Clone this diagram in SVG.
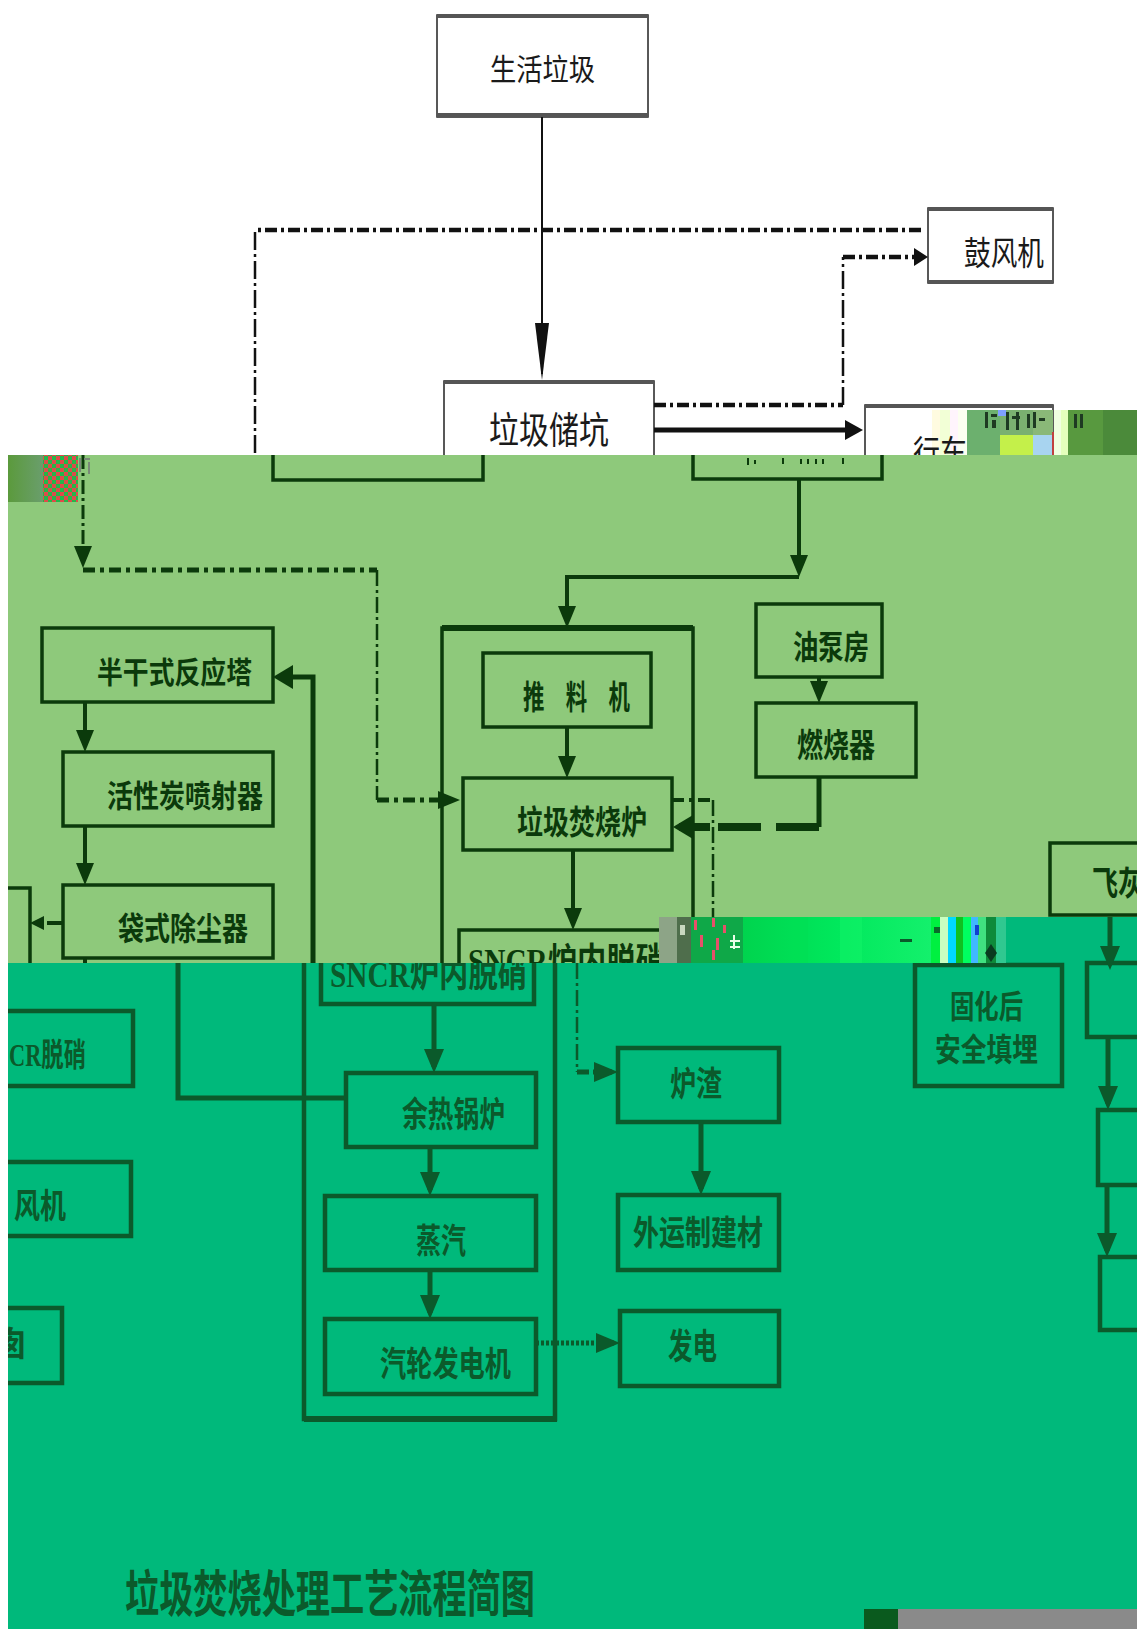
<svg xmlns="http://www.w3.org/2000/svg" width="1137" height="1629" viewBox="0 0 1137 1629">
<defs>
<style>
.tw{font-family:'Noto Sans CJK SC',sans-serif;fill:#1a1a1a}
.tg{font-family:'Noto Sans CJK SC',sans-serif;font-weight:700;fill:#0b3a0b}
.tt{font-family:'Noto Sans CJK SC',sans-serif;font-weight:700;fill:#0b5a2b}
.ts{font-family:'Liberation Serif','Noto Sans CJK SC',serif;font-weight:700}
.bw{fill:#fff;stroke:#222;stroke-width:1.5}
.bg{fill:none;stroke:#0b3a0b;stroke-width:3.5}
.bt{fill:none;stroke:#0b5a2b;stroke-width:4.5}
.cw{fill:none;stroke:#111}
.cg{fill:none;stroke:#0b3a0b}
.ct{fill:none;stroke:#0b5a2b}
.bar{fill:#555}
</style>
<marker id="aw" viewBox="0 0 57 14" refX="51" refY="7" markerWidth="57" markerHeight="14" markerUnits="userSpaceOnUse" orient="auto"><path d="M0,0 L57,7 L0,14 Z" fill="#111"/></marker>
<marker id="awt" viewBox="0 0 18 20" refX="12" refY="10" markerWidth="18" markerHeight="20" markerUnits="userSpaceOnUse" orient="auto"><path d="M0,0 L18,10 L0,20 Z" fill="#111"/></marker>
<marker id="awd" viewBox="0 0 14 18" refX="8" refY="9" markerWidth="14" markerHeight="18" markerUnits="userSpaceOnUse" orient="auto"><path d="M0,0 L14,9 L0,18 Z" fill="#111"/></marker>
<marker id="ag" viewBox="0 0 22 18" refX="16" refY="9" markerWidth="22" markerHeight="18" markerUnits="userSpaceOnUse" orient="auto"><path d="M0,0 L22,9 L0,18 Z" fill="#0b3a0b"/></marker>
<marker id="ags" viewBox="0 0 14 14" refX="8" refY="7" markerWidth="14" markerHeight="14" markerUnits="userSpaceOnUse" orient="auto"><path d="M0,0 L14,7 L0,14 Z" fill="#0b3a0b"/></marker>
<marker id="agb" viewBox="0 0 20 24" refX="14" refY="12" markerWidth="20" markerHeight="24" markerUnits="userSpaceOnUse" orient="auto"><path d="M0,0 L20,12 L0,24 Z" fill="#0b3a0b"/></marker>
<marker id="at" viewBox="0 0 24 20" refX="18" refY="10" markerWidth="24" markerHeight="20" markerUnits="userSpaceOnUse" orient="auto"><path d="M0,0 L24,10 L0,20 Z" fill="#0b5a2b"/></marker>
<pattern id="chk" width="8" height="8" patternUnits="userSpaceOnUse"><rect width="8" height="8" fill="#22b84a"/><rect width="4" height="4" fill="#e04a4a"/><rect x="4" y="4" width="4" height="4" fill="#e04a4a"/></pattern>
<linearGradient id="glg" x1="0" y1="0" x2="1" y2="0"><stop offset="0" stop-color="#00d44e"/><stop offset="0.5" stop-color="#00e85c"/><stop offset="1" stop-color="#14f06c"/></linearGradient>
<linearGradient id="olv" x1="0" y1="0" x2="1" y2="0"><stop offset="0" stop-color="#5b9a3c"/><stop offset="1" stop-color="#6a9e6c"/></linearGradient>
<clipPath id="clipT"><rect x="0" y="963" width="1137" height="666"/></clipPath>
</defs>

<rect width="1137" height="1629" fill="#fff"/>

<!-- top (white) band -->
<g id="node-shenghuolaji">
<rect class="bw" x="437" y="15" width="211" height="102"/>
<rect class="bar" x="437" y="14" width="211" height="4"/>
<rect class="bar" x="437" y="113" width="211" height="4"/>
<text class="tw" x="490" y="80" font-size="30" textLength="105" lengthAdjust="spacingAndGlyphs">生活垃圾</text>
</g>
<g id="node-gufengji">
<rect class="bw" x="928" y="208" width="125" height="75"/>
<rect class="bar" x="928" y="207" width="125" height="4"/>
<rect class="bar" x="928" y="280" width="125" height="4"/>
<text class="tw" x="964" y="265" font-size="33" textLength="80" lengthAdjust="spacingAndGlyphs">鼓风机</text>
</g>
<g id="node-lajichukeng">
<rect class="bw" x="444" y="381" width="210" height="100"/>
<rect class="bar" x="444" y="380" width="210" height="4"/>
<text class="tw" x="489" y="444" font-size="37" textLength="120" lengthAdjust="spacingAndGlyphs">垃圾储坑</text>
</g>
<g id="node-hangche">
<rect class="bw" x="865" y="405" width="188" height="70"/>
<rect class="bar" x="865" y="404" width="188" height="4"/>
</g>
<g id="connectors-top">
<path class="cw" stroke-width="2" d="M542,117 V374" marker-end="url(#aw)"/>
<path class="cw" stroke-width="4.5" stroke-dasharray="12 4 3 4" d="M921,230 H255"/>
<path class="cw" stroke-width="2.5" stroke-dasharray="18 4 3 4" d="M255,232 V455"/>
<path class="cw" stroke-width="4.5" stroke-dasharray="12 4 3 4" d="M654,405 H843"/>
<path class="cw" stroke-width="2.5" stroke-dasharray="18 4 3 4" d="M843,405 V257"/>
<path class="cw" stroke-width="4.5" stroke-dasharray="12 4 3 4" d="M843,257 H922" marker-end="url(#awd)"/>
<path class="cw" stroke-width="5" d="M654,430 H857" marker-end="url(#awt)"/>
</g>
<g id="glitch-top">
<rect x="932" y="410" width="8" height="45" fill="#fffbe0"/>
<rect x="940" y="410" width="10" height="45" fill="#f2ffd6"/>
<rect x="950" y="410" width="8" height="45" fill="#fff4fc"/>
<rect x="958" y="410" width="9" height="45" fill="#fcfff0"/>
<rect x="967" y="410" width="33" height="45" fill="#6cb06e"/>
<rect x="1000" y="410" width="33" height="25" fill="#7ab070"/>
<rect x="1000" y="435" width="33" height="20" fill="#c4f04a"/>
<rect x="1033" y="410" width="20" height="25" fill="#8ab878"/>
<rect x="1033" y="435" width="20" height="20" fill="#a8d4f0"/>
<rect x="1052" y="432" width="2" height="23" fill="#c04040"/>
<rect x="1054" y="410" width="7" height="45" fill="#f0ffe0"/>
<rect x="1061" y="410" width="7" height="45" fill="#e4ffbc"/>
<rect x="1068" y="410" width="35" height="45" fill="#58993f"/>
<rect x="1103" y="410" width="34" height="45" fill="#4b8a3a"/>
<g fill="#1e3a22">
<rect x="985" y="412" width="3" height="16"/><rect x="991" y="414" width="6" height="3"/><rect x="992" y="420" width="4" height="8"/>
<rect x="1006" y="412" width="3" height="18"/><rect x="1012" y="416" width="8" height="3"/><rect x="1016" y="412" width="3" height="18"/>
<rect x="1027" y="414" width="3" height="14"/><rect x="1033" y="412" width="3" height="16"/><rect x="1039" y="418" width="6" height="3"/>
<rect x="1074" y="414" width="3" height="14"/><rect x="1080" y="414" width="3" height="14"/>
</g>
<rect x="998" y="410" width="8" height="6" fill="#7fa0ff"/>
</g>
<text class="tw" x="913" y="465" font-size="34" textLength="54" lengthAdjust="spacingAndGlyphs">行车</text>

<!-- middle (light green) band -->
<rect x="0" y="455" width="1137" height="508" fill="#8ec97b"/>
<g id="node-box-chukeng-lower"><path class="bg" d="M273,455 V480 H483 V455"/></g>
<g id="node-box-hangche-lower"><path class="bg" d="M693,455 V479 H882 V455"/>
<g stroke="#0b3a0b" stroke-width="2"><path d="M748,458 V465 M755,460 V464 M783,458 V464 M801,459 V464 M808,459 V464 M816,459 V464 M823,459 V464 M843,458 V464"/></g>
</g>
<g id="node-banganshi">
<rect class="bg" x="42" y="628" width="231" height="74"/>
<text class="tg" x="97" y="683" font-size="30" textLength="155" lengthAdjust="spacingAndGlyphs">半干式反应塔</text>
</g>
<g id="node-huoxingtan">
<rect class="bg" x="63" y="752" width="210" height="74"/>
<text class="tg" x="107" y="807" font-size="31" textLength="156" lengthAdjust="spacingAndGlyphs">活性炭喷射器</text>
</g>
<g id="node-daishi">
<rect class="bg" x="63" y="885" width="210" height="73"/>
<text class="tg" x="118" y="940" font-size="32" textLength="130" lengthAdjust="spacingAndGlyphs">袋式除尘器</text>
</g>
<g id="node-left-cut"><path class="bg" d="M0,888 H30 V963"/></g>
<g id="node-outer-furnace">
<path class="bg" d="M442,963 V628 H693 V917"/>
<path class="cg" stroke-width="6" d="M442,628 H693"/>
</g>
<g id="node-tuiliaoji">
<rect class="bg" x="483" y="653" width="168" height="74"/>
<text class="tg" x="523" y="709" font-size="33" textLength="107" lengthAdjust="spacingAndGlyphs">推　料　机</text>
</g>
<g id="node-fenshaolu">
<rect class="bg" x="463" y="778" width="209" height="72"/>
<text class="tg" x="517" y="834" font-size="33" textLength="130" lengthAdjust="spacingAndGlyphs">垃圾焚烧炉</text>
</g>
<g id="node-sncr-upper">
<path class="bg" d="M459,963 V930 H672 V963"/>
<text class="ts" fill="#0b3a0b" x="468" y="974" font-size="36" textLength="197" lengthAdjust="spacingAndGlyphs">SNCR炉内脱硝</text>
</g>
<g id="node-youbengfang">
<rect class="bg" x="756" y="604" width="126" height="73"/>
<text class="tg" x="793" y="659" font-size="33" textLength="76" lengthAdjust="spacingAndGlyphs">油泵房</text>
</g>
<g id="node-ranshaoqi">
<rect class="bg" x="756" y="703" width="160" height="74"/>
<text class="tg" x="797" y="757" font-size="33" textLength="78" lengthAdjust="spacingAndGlyphs">燃烧器</text>
</g>
<g id="node-feihui">
<rect class="bg" x="1050" y="843" width="100" height="72"/>
<text class="tg" x="1092" y="895" font-size="33" textLength="52" lengthAdjust="spacingAndGlyphs">飞灰</text>
</g>
<g id="connectors-mid">
<path class="cg" stroke-width="3" stroke-dasharray="14 4 3 4" d="M83,455 V562" marker-end="url(#ag)"/>
<path class="cg" stroke-width="5" stroke-dasharray="12 5 4 5" d="M83,570 H377"/>
<path class="cg" stroke-width="2.5" stroke-dasharray="16 4 3 4" d="M377,570 V800"/>
<path class="cg" stroke-width="5" stroke-dasharray="12 5 4 5" d="M377,800 H454" marker-end="url(#ag)"/>
<path class="cg" stroke-width="4" stroke-dasharray="12 5 4 5" d="M672,800 H713"/>
<path class="cg" stroke-width="2.5" stroke-dasharray="16 4 3 4" d="M713,800 V963"/>
<path class="cg" stroke-width="4" d="M85,702 V746" marker-end="url(#ag)"/>
<path class="cg" stroke-width="4" d="M85,826 V879" marker-end="url(#ag)"/>
<path class="cg" stroke-width="4" d="M85,958 V963"/>
<path class="cg" stroke-width="4" stroke-dasharray="15 3 100" d="M62,923 H36" marker-end="url(#ags)"/>
<path class="cg" stroke-width="5" d="M313,963 V677 H279" marker-end="url(#agb)"/>
<path class="cg" stroke-width="4" d="M799,479 V571" marker-end="url(#ag)"/>
<path class="cg" stroke-width="4" d="M799,577 H567 V622" marker-end="url(#ag)"/>
<path class="cg" stroke-width="4" d="M567,727 V772" marker-end="url(#ag)"/>
<path class="cg" stroke-width="4" d="M573,850 V924" marker-end="url(#ag)"/>
<path class="cg" stroke-width="4" d="M819,677 V697" marker-end="url(#ag)"/>
<path class="cg" stroke-width="5" d="M819,777 V827"/>
<path class="cg" stroke-width="8" stroke-dasharray="43 15 43 8 200 0" d="M819,827 H679" marker-end="url(#agb)"/>
</g>
<g id="glitch-left">
<rect x="8" y="455" width="35" height="47" fill="url(#olv)"/>
<rect x="43" y="455" width="35" height="47" fill="url(#chk)"/>
<rect x="79" y="458" width="2" height="14" fill="#7a8a78"/><rect x="84" y="458" width="6" height="2" fill="#7a8a78"/><rect x="88" y="462" width="2" height="12" fill="#7a8a78"/>
</g>

<!-- bottom (teal) band -->
<rect x="0" y="963" width="1137" height="666" fill="#00b97b"/>
<rect x="1002" y="917" width="135" height="46" fill="#00b97b"/>
<g id="node-outer-boiler">
<path class="bt" d="M304,963 V1419 H555 V963"/>
<path class="ct" stroke-width="6" d="M304,1419 H557"/>
</g>
<g id="node-sncr">
<path class="bt" d="M321,963 V1004 H534 V963"/>
<text class="ts" fill="#0b5a2b" x="330" y="987" font-size="36" textLength="197" lengthAdjust="spacingAndGlyphs" clip-path="url(#clipT)">SNCR炉内脱硝</text>
</g>
<g id="node-yureguolu">
<rect class="bt" x="346" y="1073" width="190" height="74"/>
<text class="tt" x="402" y="1127" font-size="35" textLength="103" lengthAdjust="spacingAndGlyphs">余热锅炉</text>
</g>
<g id="node-zhengqi">
<rect class="bt" x="325" y="1196" width="211" height="74"/>
<text class="tt" x="416" y="1253" font-size="34" textLength="50" lengthAdjust="spacingAndGlyphs">蒸汽</text>
</g>
<g id="node-qilunfadianji">
<rect class="bt" x="325" y="1319" width="211" height="75"/>
<text class="tt" x="380" y="1376" font-size="34" textLength="131" lengthAdjust="spacingAndGlyphs">汽轮发电机</text>
</g>
<g id="node-fadian">
<rect class="bt" x="620" y="1311" width="159" height="75"/>
<text class="tt" x="668" y="1359" font-size="35" textLength="49" lengthAdjust="spacingAndGlyphs">发电</text>
</g>
<g id="node-luzha">
<rect class="bt" x="618" y="1048" width="161" height="74"/>
<text class="tt" x="670" y="1096" font-size="34" textLength="52" lengthAdjust="spacingAndGlyphs">炉渣</text>
</g>
<g id="node-waiyun">
<rect class="bt" x="618" y="1195" width="161" height="75"/>
<text class="tt" x="633" y="1245" font-size="34" textLength="130" lengthAdjust="spacingAndGlyphs">外运制建材</text>
</g>
<g id="node-scr">
<path class="bt" d="M0,1011 H133 V1086 H0"/>
<text class="ts" fill="#0b5a2b" x="9" y="1066" font-size="32" textLength="77" lengthAdjust="spacingAndGlyphs">CR脱硝</text>
</g>
<g id="node-yinfengji">
<path class="bt" d="M0,1162 H131 V1236 H0"/>
<text class="tt" x="14" y="1218" font-size="34" textLength="52" lengthAdjust="spacingAndGlyphs">风机</text>
</g>
<g id="node-yancong">
<path class="bt" d="M0,1308 H62 V1383 H0"/>
<text class="tt" x="-4" y="1356" font-size="34" textLength="30" lengthAdjust="spacingAndGlyphs">囱</text>
</g>
<g id="node-guhua">
<rect class="bt" x="915" y="965" width="147" height="121"/>
<text class="tt" x="950" y="1018" font-size="32" textLength="73" lengthAdjust="spacingAndGlyphs">固化后</text>
<text class="tt" x="935" y="1061" font-size="32" textLength="103" lengthAdjust="spacingAndGlyphs">安全填埋</text>
</g>
<g id="node-right-a"><path class="bt" d="M1140,963 H1087 V1037 H1140"/></g>
<g id="node-right-b"><path class="bt" d="M1140,1110 H1098 V1185 H1140"/></g>
<g id="node-right-c"><path class="bt" d="M1140,1257 H1100 V1330 H1140"/></g>
<g id="connectors-bottom">
<path class="ct" stroke-width="5" d="M178,963 V1098 H346"/>
<path class="ct" stroke-width="5" d="M434,1004 V1067" marker-end="url(#at)"/>
<path class="ct" stroke-width="5" d="M430,1147 V1190" marker-end="url(#at)"/>
<path class="ct" stroke-width="5" d="M430,1270 V1313" marker-end="url(#at)"/>
<path class="ct" stroke-width="5" stroke-dasharray="3 2" d="M536,1343 H614" marker-end="url(#at)"/>
<path class="ct" stroke-width="2.5" stroke-dasharray="16 4 3 4" d="M577,963 V1072"/>
<path class="ct" stroke-width="5" stroke-dasharray="12 4 3 4" d="M577,1072 H612" marker-end="url(#at)"/>
<path class="ct" stroke-width="5" d="M701,1122 V1189" marker-end="url(#at)"/>
<path class="ct" stroke-width="5" d="M1110,917 V964" marker-end="url(#at)"/>
<path class="ct" stroke-width="5" d="M1108,1037 V1104" marker-end="url(#at)"/>
<path class="ct" stroke-width="5" d="M1107,1185 V1251" marker-end="url(#at)"/>
</g>
<g id="glitch-mid">
<rect x="659" y="917" width="18" height="46" fill="#8da487"/>
<rect x="677" y="917" width="14" height="46" fill="#4f6e4c"/>
<rect x="680" y="925" width="5" height="10" fill="#c8d8c0"/>
<rect x="691" y="917" width="52" height="46" fill="#0fa848"/>
<g fill="#e8506a"><rect x="694" y="920" width="3" height="10"/><rect x="700" y="935" width="3" height="12"/><rect x="712" y="918" width="3" height="9"/><rect x="716" y="938" width="3" height="12"/><rect x="723" y="925" width="3" height="8"/><rect x="712" y="950" width="3" height="10"/></g>
<g fill="#e8ffe8"><rect x="730" y="940" width="10" height="2"/><rect x="730" y="946" width="10" height="2"/><rect x="733" y="935" width="2" height="14"/></g>
<rect x="743" y="917" width="188" height="46" fill="url(#glg)"/>
<rect x="790" y="917" width="18" height="46" fill="#00e054" opacity="0.7"/>
<rect x="840" y="917" width="22" height="46" fill="#10f268" opacity="0.6"/>
<rect x="900" y="939" width="12" height="3" fill="#0a5a2a"/>
<rect x="931" y="917" width="9" height="46" fill="#00f040"/>
<rect x="934" y="927" width="6" height="6" fill="#0a6a2a"/>
<rect x="940" y="917" width="8" height="46" fill="#c8ffc0"/>
<rect x="948" y="917" width="8" height="46" fill="#00d8ff"/>
<rect x="956" y="917" width="7" height="46" fill="#10c020"/>
<rect x="963" y="917" width="8" height="46" fill="#00ff60"/>
<rect x="971" y="917" width="7" height="46" fill="#40b8ff"/>
<rect x="978" y="917" width="8" height="46" fill="#40e080"/>
<rect x="986" y="917" width="10" height="46" fill="#0e8a3a"/>
<rect x="996" y="917" width="10" height="46" fill="#30c890"/>
<rect x="975" y="925" width="4" height="10" fill="#1040d0"/>
<path d="M991,944 L997,953 L991,962 L985,953 Z" fill="#0a3a20"/>
</g>

<g id="title">
<text class="tt" x="125" y="1612" font-size="50" textLength="410" lengthAdjust="spacingAndGlyphs">垃圾焚烧处理工艺流程简图</text>
</g>
<rect x="0" y="0" width="8" height="1629" fill="#fff"/>
<rect x="864" y="1609" width="34" height="20" fill="#0a5a1e"/>
<rect x="898" y="1609" width="239" height="20" fill="#8a8a8a"/>
</svg>
